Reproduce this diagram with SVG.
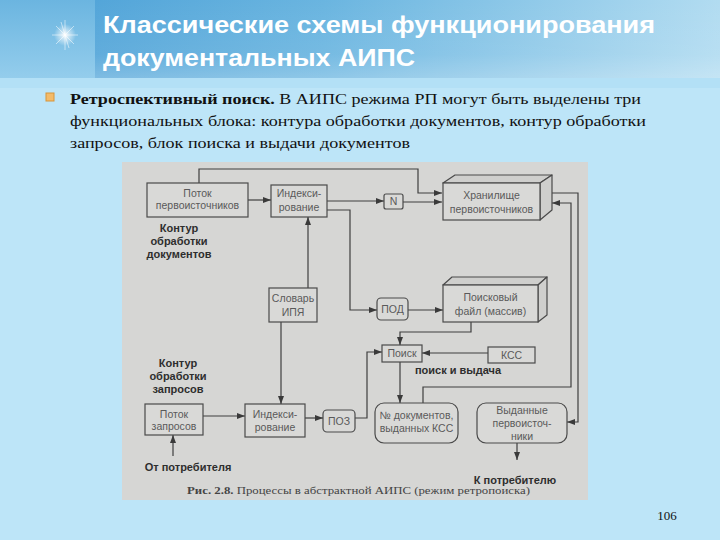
<svg xmlns="http://www.w3.org/2000/svg" width="720" height="540" viewBox="0 0 720 540">
<defs>
<linearGradient id="band" x1="0" y1="0" x2="1" y2="0">
<stop offset="0" stop-color="#4a9fd6"/>
<stop offset="0.45" stop-color="#6ab5e0"/>
<stop offset="1" stop-color="#b2dcf1"/>
</linearGradient>
<linearGradient id="bandV" x1="0" y1="0" x2="0" y2="1">
<stop offset="0" stop-color="#ffffff" stop-opacity="0"/>
<stop offset="0.7" stop-color="#ffffff" stop-opacity="0.08"/>
<stop offset="1" stop-color="#ffffff" stop-opacity="0.25"/>
</linearGradient>
<linearGradient id="leftBlock" x1="0" y1="0" x2="0" y2="1">
<stop offset="0" stop-color="#6bb5e0"/>
<stop offset="1" stop-color="#94cdec"/>
</linearGradient>
<radialGradient id="glow">
<stop offset="0" stop-color="#ffffff" stop-opacity="1"/>
<stop offset="0.35" stop-color="#ffffff" stop-opacity="0.6"/>
<stop offset="1" stop-color="#ffffff" stop-opacity="0"/>
</radialGradient>
<marker id="ah" markerUnits="userSpaceOnUse" markerWidth="8" markerHeight="6" refX="8" refY="3" orient="auto">
<path d="M0,0 L8,3 L0,6 z" fill="#3a3a3a"/>
</marker>
<style>
.box{fill:#d9d9d7;stroke:#4a4a4a;stroke-width:1.2}
.side{fill:#cfcfcd;stroke:#4a4a4a;stroke-width:1.2;stroke-linejoin:round}
.t{font-family:"Liberation Sans",Arial,sans-serif;font-size:10.5px;fill:#5a5a5a;text-anchor:middle}
.b{font-family:"Liberation Sans",Arial,sans-serif;font-size:11px;font-weight:bold;fill:#2e2e2e;text-anchor:middle}
.c{fill:none;stroke:#3e3e3e;stroke-width:1.2;marker-end:url(#ah)}
.title{font-family:"Liberation Sans",Arial,sans-serif;font-size:24px;font-weight:bold;fill:#ffffff}
.body{font-family:"Liberation Serif","Times New Roman",serif;font-size:15px;fill:#111111}
</style>
</defs>

<!-- slide background -->
<rect x="0" y="0" width="720" height="540" fill="#bde5f8"/>
<rect x="0" y="0" width="720" height="78" fill="url(#band)"/>
<rect x="0" y="0" width="720" height="78" fill="url(#bandV)"/>
<rect x="0" y="0" width="95" height="78" fill="url(#leftBlock)"/>
<rect x="0" y="78" width="720" height="10" fill="#b3e0f6"/>

<!-- star -->
<g id="star">
<circle cx="65" cy="35" r="11" fill="url(#glow)"/>
<path d="M65,20 L65,50 M52,35 L78,35 M56,26 L74,44 M56,44 L74,26 M61,22 L69,48" stroke="#ffffff" stroke-width="0.7" stroke-opacity="0.75"/>
</g>

<!-- title -->
<text class="title" x="103" y="33" textLength="552" lengthAdjust="spacingAndGlyphs">Классические схемы функционирования</text>
<text class="title" x="103" y="66" textLength="312" lengthAdjust="spacingAndGlyphs">документальных АИПС</text>

<!-- bullet -->
<rect x="46" y="93" width="8" height="8" fill="#f3bb6a" stroke="#d8953a" stroke-width="1"/>
<text class="body" x="70" y="104" textLength="571" lengthAdjust="spacingAndGlyphs"><tspan font-weight="bold">Ретроспективный поиск.</tspan> В АИПС режима РП могут быть выделены три</text>
<text class="body" x="70" y="126" textLength="576" lengthAdjust="spacingAndGlyphs">функциональных блока: контура обработки документов, контур обработки</text>
<text class="body" x="70" y="148" textLength="340" lengthAdjust="spacingAndGlyphs">запросов, блок поиска и выдачи документов</text>

<!-- scanned figure background -->
<rect x="122" y="162" width="466" height="338" fill="#d6d6d4"/>

<!-- connectors -->
<g id="connectors">
<path class="c" d="M199,183 V169 H418 V193 H442"/>
<path class="c" d="M248,200 H271"/>
<path class="c" d="M327,201 H384"/>
<path class="c" d="M403,202 H442"/>
<path class="c" d="M327,210 H350 V310 H377"/>
<path class="c" d="M308,288 V217"/>
<path class="c" d="M281,322 V404"/>
<path class="c" d="M408,310 H443"/>
<path class="c" d="M471,322 V332 H400 V345"/>
<path class="c" d="M488,353 H422"/>
<path class="c" d="M355,418 H367 V352 H382"/>
<path class="c" d="M400,362 V403"/>
<path class="c" d="M203,416 H245"/>
<path class="c" d="M305,418 H323"/>
<path class="c" d="M423,403 V387 H571 V203 H552"/>
<path class="c" d="M552,193 H578 V422 H567"/>
<path class="c" d="M173,456 V435"/>
<path class="c" d="M517,443 V460"/>
</g>

<!-- nodes -->
<g id="potok1">
<rect class="box" x="147" y="183" width="101" height="34"/>
<text class="t" x="197.5" y="197">Поток</text>
<text class="t" x="197.5" y="209">первоисточников</text>
</g>
<g id="index1">
<rect class="box" x="271" y="185" width="56" height="32"/>
<text class="t" x="299" y="197">Индекси-</text>
<text class="t" x="299" y="211">рование</text>
</g>
<g id="n">
<rect class="box" x="384" y="194" width="19" height="15" rx="2"/>
<text class="t" x="393.5" y="205">N</text>
</g>
<g id="storage">
<polygon class="side" points="443,183 455,175 552,175 540,183"/>
<polygon class="side" points="540,183 552,175 552,210 540,220"/>
<rect class="box" x="443" y="183" width="97" height="37"/>
<text class="t" x="491.5" y="199">Хранилище</text>
<text class="t" x="491.5" y="213">первоисточников</text>
</g>
<g id="doc-label">
<text class="b" x="179" y="232">Контур</text>
<text class="b" x="179" y="245">обработки</text>
<text class="b" x="179" y="258">документов</text>
</g>
<g id="slovar">
<rect class="box" x="269" y="288" width="48" height="34"/>
<text class="t" x="293" y="302">Словарь</text>
<text class="t" x="293" y="316">ИПЯ</text>
</g>
<g id="pod">
<rect class="box" x="377" y="298" width="31" height="22" rx="4"/>
<text class="t" x="392.5" y="313">ПОД</text>
</g>
<g id="search-file">
<polygon class="side" points="443,285 452,277 547,277 538,285"/>
<polygon class="side" points="538,285 547,277 547,315 538,322"/>
<rect class="box" x="443" y="285" width="95" height="37"/>
<text class="t" x="490.5" y="301">Поисковый</text>
<text class="t" x="490.5" y="315">файл (массив)</text>
</g>
<g id="poisk">
<rect class="box" x="382" y="345" width="40" height="17"/>
<text class="t" x="402" y="357">Поиск</text>
</g>
<g id="kss">
<rect class="box" x="488" y="347" width="47" height="16"/>
<text class="t" x="511.5" y="359">КСС</text>
</g>
<g id="search-label">
<text class="b" x="458" y="374">поиск и выдача</text>
</g>
<g id="req-label">
<text class="b" x="178" y="367">Контур</text>
<text class="b" x="178" y="380">обработки</text>
<text class="b" x="178" y="393">запросов</text>
</g>
<g id="potok2">
<rect class="box" x="145" y="404" width="58" height="31"/>
<text class="t" x="174" y="418">Поток</text>
<text class="t" x="174" y="430">запросов</text>
</g>
<g id="index2">
<rect class="box" x="245" y="404" width="60" height="33"/>
<text class="t" x="275" y="418">Индекси-</text>
<text class="t" x="275" y="431">рование</text>
</g>
<g id="poz">
<rect class="box" x="323" y="410" width="32" height="22" rx="4"/>
<text class="t" x="339" y="425">ПОЗ</text>
</g>
<g id="nomer">
<rect class="box" x="375" y="403" width="83" height="40" rx="9"/>
<text class="t" x="416.5" y="419">№ документов,</text>
<text class="t" x="416.5" y="432">выданных КСС</text>
</g>
<g id="vydannye">
<rect class="box" x="477" y="403" width="90" height="40" rx="9"/>
<text class="t" x="522" y="414">Выданные</text>
<text class="t" x="522" y="427">первоисточ-</text>
<text class="t" x="522" y="440">ники</text>
</g>
<g id="from-consumer">
<text class="b" x="188" y="471">От потребителя</text>
</g>
<g id="to-consumer">
<text class="b" x="515" y="484">К потребителю</text>
</g>
<text x="187" y="494" textLength="343" lengthAdjust="spacingAndGlyphs" font-family="'Liberation Serif','Times New Roman',serif" font-size="11" fill="#444444"><tspan font-weight="bold">Рис. 2.8.</tspan> Процессы в абстрактной АИПС (режим ретропоиска)</text>

<!-- page number -->
<text x="667" y="520" font-family="'Liberation Serif','Times New Roman',serif" font-size="13" fill="#111111" text-anchor="middle">106</text>
</svg>
